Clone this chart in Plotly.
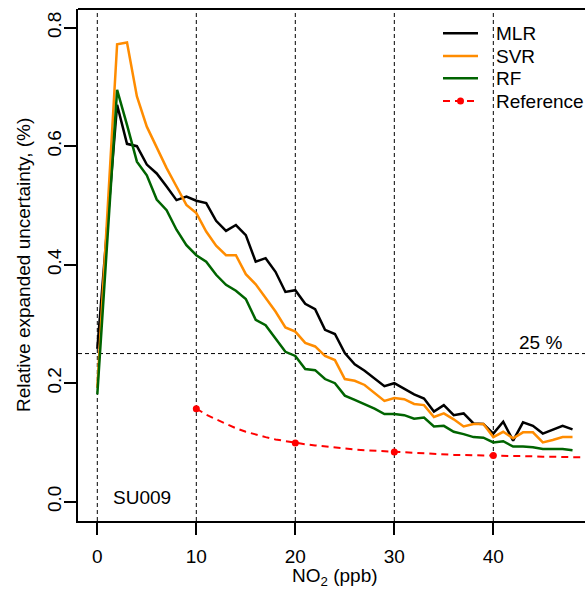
import plotly.graph_objects as go

# ---------------- data ----------------
no2 = list(range(0, 49))

mlr = [0.258, 0.464, 0.670, 0.604, 0.600, 0.569, 0.554, 0.532, 0.509, 0.515,
       0.508, 0.504, 0.474, 0.457, 0.467, 0.450, 0.405, 0.411, 0.388, 0.354,
       0.357, 0.334, 0.325, 0.290, 0.283, 0.251, 0.232, 0.221, 0.208, 0.195,
       0.200, 0.190, 0.181, 0.174, 0.152, 0.163, 0.146, 0.149, 0.132, 0.131,
       0.115, 0.135, 0.103, 0.134, 0.128, 0.115, 0.121, 0.128, 0.122]

svr = [0.192, 0.482, 0.772, 0.775, 0.684, 0.633, 0.599, 0.563, 0.532, 0.501,
       0.487, 0.456, 0.432, 0.416, 0.416, 0.384, 0.367, 0.343, 0.321, 0.294,
       0.287, 0.268, 0.262, 0.246, 0.239, 0.207, 0.204, 0.197, 0.183, 0.170,
       0.175, 0.173, 0.165, 0.163, 0.143, 0.149, 0.139, 0.127, 0.131, 0.131,
       0.109, 0.118, 0.107, 0.117, 0.117, 0.100, 0.104, 0.109, 0.109]

rf = [0.181, 0.438, 0.695, 0.636, 0.574, 0.551, 0.510, 0.492, 0.459, 0.433,
      0.416, 0.405, 0.383, 0.366, 0.356, 0.342, 0.307, 0.298, 0.276, 0.253,
      0.246, 0.224, 0.222, 0.207, 0.200, 0.179, 0.172, 0.165, 0.157, 0.148,
      0.148, 0.146, 0.140, 0.142, 0.127, 0.128, 0.118, 0.114, 0.109, 0.108,
      0.100, 0.102, 0.093, 0.093, 0.092, 0.089, 0.089, 0.089, 0.087]

ref_x = list(range(10, 50))
ref_y = [0.157, 0.147, 0.139, 0.131, 0.124, 0.118, 0.113, 0.109, 0.105, 0.102,
         0.099, 0.097, 0.095, 0.093, 0.091, 0.090, 0.088, 0.087, 0.086, 0.085,
         0.084, 0.083, 0.082, 0.081, 0.081, 0.080, 0.079, 0.079, 0.078, 0.078,
         0.078, 0.077, 0.077, 0.077, 0.076, 0.076, 0.076, 0.075, 0.075, 0.075]
ref_marker_x = [10, 20, 30, 40]

series_names = ["MLR", "SVR", "RF", "Reference"]
series_colors = ["black", "#FF8C00", "#006400", "red"]

x_ticks = [0, 10, 20, 30, 40]
y_ticks = [0.0, 0.2, 0.4, 0.6, 0.8]
y_tick_text = ["0.0", "0.2", "0.4", "0.6", "0.8"]
grid_x = [0, 10, 20, 30, 40]
threshold = 0.25

FONT = "Liberation Sans, Arial, Helvetica, sans-serif"
FS = 19

# plot-area geometry (pixels) used to place the legend box
L, R, T, B = 78, 585, 9, 521
def px(xp):
    return (xp - L) / (R - L)
def py(yp):
    return (B - yp) / (B - T)

fig = go.Figure()

for name, ys, col in zip(series_names[:3], [mlr, svr, rf], series_colors[:3]):
    fig.add_trace(go.Scatter(x=no2, y=ys, mode="lines", name=name, showlegend=False,
                             line=dict(color=col, width=2.5)))

ref_marker_y = [ref_y[ref_x.index(v)] for v in ref_marker_x]
fig.add_trace(go.Scatter(x=ref_x, y=ref_y, mode="lines", name="Reference",
                         showlegend=False,
                         line=dict(color="red", width=2, dash="7px,5px")))
fig.add_trace(go.Scatter(x=ref_marker_x, y=ref_marker_y, mode="markers",
                         name="Reference", showlegend=False,
                         marker=dict(color="red", size=7)))

shapes = []
for gx in grid_x:
    shapes.append(dict(type="line", xref="x", yref="paper", x0=gx, x1=gx, y0=0, y1=1,
                       line=dict(color="black", width=1, dash="4px,3px"), layer="below"))
shapes.append(dict(type="line", xref="paper", yref="y", x0=0, x1=1, y0=threshold, y1=threshold,
                   line=dict(color="black", width=1, dash="4px,3px"), layer="below"))
# top border of the box
shapes.append(dict(type="line", xref="paper", yref="paper", x0=0, x1=1, y0=1, y1=1,
                   line=dict(color="black", width=2)))

annotations = [
    dict(text="25 %", x=44.8, y=0.268, xref="x", yref="y", showarrow=False,
         font=dict(family=FONT, size=FS, color="black")),
    dict(text="SU009", x=4.47, y=0.007, xref="x", yref="y", showarrow=False,
         font=dict(family=FONT, size=FS, color="black")),
    dict(text="NO<sub>2</sub> (ppb)", x=24.0, y=-0.109, xref="x", yref="paper",
         showarrow=False, yanchor="middle",
         font=dict(family=FONT, size=FS, color="black")),
    dict(text="Relative expanded uncertainty, (%)", x=px(23), y=0.5, xref="paper",
         yref="paper", showarrow=False, textangle=-90, xanchor="center", yanchor="middle",
         font=dict(family=FONT, size=FS, color="black")),
]

# legend (drawn as key lines + labels)
leg_rows = [33.3, 56, 78.3, 101]
leg_x0, leg_x1, leg_tx = 443, 478, 494
for name, col, ry in zip(series_names, series_colors, leg_rows):
    if name == "Reference":
        shapes.append(dict(type="line", xref="paper", yref="paper",
                           x0=px(leg_x0), x1=px(leg_x1), y0=py(ry), y1=py(ry),
                           line=dict(color=col, width=2, dash="7px,5px")))
        shapes.append(dict(type="circle", xref="paper", yref="paper",
                           xsizemode="pixel", ysizemode="pixel",
                           xanchor=px((leg_x0 + leg_x1) / 2), yanchor=py(ry),
                           x0=-3.5, x1=3.5, y0=-3.5, y1=3.5,
                           fillcolor=col, line=dict(color=col, width=0)))
    else:
        shapes.append(dict(type="line", xref="paper", yref="paper",
                           x0=px(leg_x0), x1=px(leg_x1), y0=py(ry), y1=py(ry),
                           line=dict(color=col, width=2.5)))
    annotations.append(dict(text=name, x=px(leg_tx), y=py(ry), xref="paper", yref="paper",
                            xanchor="left", yanchor="middle", showarrow=False,
                            font=dict(family=FONT, size=FS, color="black")))

fig.update_layout(
    width=585, height=591,
    margin=dict(l=L, r=585 - R, t=T, b=591 - B),
    paper_bgcolor="white", plot_bgcolor="white",
    font=dict(family=FONT, size=FS, color="black"),
    shapes=shapes, annotations=annotations,
    showlegend=False,
    xaxis=dict(range=[-1.95, 49.26], tickvals=x_ticks, ticks="outside", ticklen=12,
               tickwidth=1.5, tickcolor="black", showline=True, linecolor="black",
               linewidth=2, showgrid=False, zeroline=False, ticklabelstandoff=5,
               tickfont=dict(family=FONT, size=FS, color="black")),
    yaxis=dict(range=[-0.0326, 0.8316], tickvals=y_ticks, ticktext=y_tick_text,
               ticks="outside", ticklen=12, tickwidth=1.5, tickcolor="black",
               showline=True, linecolor="black", linewidth=2, showgrid=False,
               zeroline=False, tickangle=-90, ticklabelstandoff=-5,
               tickfont=dict(family=FONT, size=FS, color="black")),
)

fig.write_html("out.html", config={"displayModeBar": False},
               post_script="document.body.style.margin='0';document.body.style.padding='0';")
